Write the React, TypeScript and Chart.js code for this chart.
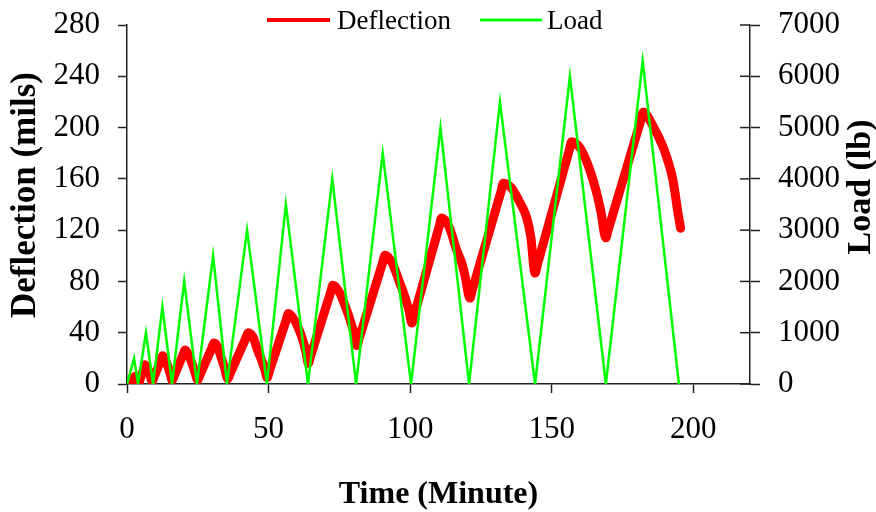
import React, { useEffect, useRef } from "react";
import { Chart, registerables } from "chart.js";

Chart.register(...registerables);

// ---- data ----
const loadTime = [0, 2.5, 3.9, 6.7, 9.2, 12.5, 15.9, 20.2, 24.7, 30.4, 35.3, 42.4, 49.4, 56.1, 63.9, 72.5, 80.9, 90.3, 100.3, 110.7, 120.8, 131.7, 144.1, 156.4, 169.1, 182.1, 194.9];
const loadValue = [0, 500, 0, 1000, 0, 1500, 0, 2000, 0, 2500, 0, 3000, 0, 3500, 0, 4000, 0, 4500, 0, 5000, 0, 5500, 0, 6000, 0, 6300, 0];

const deflTime = [
  0, 0.5, 2.3, 2.8, 3.5, 4.2,
  4.7, 5.9, 6.4, 7.3, 8.1, 8.9,
  9.4, 12.1, 12.6, 13.5, 14.4, 15.2, 16.0,
  16.6, 19.9, 20.5, 21.7, 22.8, 23.9, 25.0,
  25.7, 30.0, 30.7, 32.0, 33.2, 34.4, 35.6,
  36.4, 42.0, 42.8, 44.5, 46.2, 47.8, 48.7, 49.5,
  50.3, 56.2, 57.0, 58.8, 61.0, 62.5, 63.3, 64.0,
  64.8, 71.9, 72.7, 74.8, 77.6, 79.2, 80.2, 81.2,
  82.0, 90.3, 91.1, 93.5, 96.4, 98.2, 99.5, 100.6,
  101.4, 110.3, 111.1, 113.6, 116.4, 118.2, 119.4, 121.1,
  121.9, 132.1, 132.9, 135.7, 138.5, 141.1, 142.6, 144.1,
  144.9, 156.2, 157.0, 160.0, 163.1, 165.5, 167.3, 169.1,
  169.9, 181.5, 182.3, 186.0, 189.3, 191.0, 192.8, 194.6, 195.5,
];
const deflValue = [
  0, 1.1, 4.9, 6, 4, 1,
  4.2, 11.8, 15, 12, 7, 2,
  4.7, 19.3, 22, 19, 14, 8, 3,
  6.1, 23.4, 26.5, 23, 17, 10, 3,
  6.6, 28.4, 32, 29, 21, 13, 4,
  8, 36, 40, 36.5, 26, 17, 11, 5,
  10.3, 49.7, 55, 51, 41, 31, 24, 16,
  21.6, 71.4, 77, 72.3, 57.5, 47, 39.4, 30,
  35.7, 94.8, 100.5, 95, 78.5, 67.6, 58, 47.5,
  53.7, 123.3, 129.5, 123.3, 104.5, 94.5, 84, 67,
  73.1, 150.4, 156.5, 153, 142.5, 130, 114.5, 86.5,
  92.9, 182.6, 189, 184, 169, 152, 135, 114,
  119.9, 206.1, 212, 200, 185, 174, 159, 133, 121.5,
];

const xTicks = [0, 50, 100, 150, 200];
const yLeftTicks = [0, 40, 80, 120, 160, 200, 240, 280];
const yRightTicks = [0, 1000, 2000, 3000, 4000, 5000, 6000, 7000];

const seriesNames = ["Deflection", "Load"];
const xTitle = "Time (Minute)";
const yLeftTitle = "Deflection (mils)";
const yRightTitle = "Load (lb)";

const SERIF = "'Liberation Serif', 'Times New Roman', serif";
const AXIS = "#222";

const decorPlugin = {
  id: "decor",
  afterDraw(chart: any) {
    const ctx = chart.ctx;
    ctx.save();
    // inner tick marks on the right axis
    const y1 = chart.scales.y1;
    ctx.strokeStyle = AXIS;
    ctx.lineWidth = 1.5;
    for (const v of yRightTicks) {
      const py = y1.getPixelForValue(v);
      ctx.beginPath();
      ctx.moveTo(y1.left - 10, py);
      ctx.lineTo(y1.left, py);
      ctx.stroke();
    }
    // vertical axis titles
    ctx.fillStyle = "#000";
    ctx.textAlign = "center";
    ctx.textBaseline = "middle";
    ctx.save();
    ctx.font = `bold 35px ${SERIF}`;
    ctx.translate(26, 195);
    ctx.rotate(-Math.PI / 2);
    ctx.fillText(yLeftTitle, 0, 0);
    ctx.restore();
    ctx.save();
    ctx.font = `bold 34px ${SERIF}`;
    ctx.translate(861, 187);
    ctx.rotate(-Math.PI / 2);
    ctx.fillText(yRightTitle, 0, 0);
    ctx.restore();
    // legend
    const items = [
      { name: seriesNames[0], color: "#FF0000", w: 4, x0: 267, x1: 330, tx: 337 },
      { name: seriesNames[1], color: "#00FF00", w: 3, x0: 480, x1: 542, tx: 547 },
    ];
    ctx.font = `27px ${SERIF}`;
    ctx.textAlign = "left";
    for (const it of items) {
      ctx.strokeStyle = it.color;
      ctx.lineWidth = it.w;
      ctx.beginPath();
      ctx.moveTo(it.x0, 20);
      ctx.lineTo(it.x1, 20);
      ctx.stroke();
      ctx.fillStyle = "#000";
      ctx.fillText(it.name, it.tx, 22);
    }
    ctx.restore();
  },
};

export default function App() {
  const ref = useRef<HTMLCanvasElement | null>(null);

  useEffect(() => {
    document.body.style.margin = "0";
    const canvas = ref.current;
    if (!canvas) return;

    const deflData = deflTime.map((t, i) => ({ x: t, y: deflValue[i] }));
    const loadData = loadTime.map((t, i) => ({ x: t, y: loadValue[i] }));

    const tickFont = { family: SERIF, size: 31 };
    const plain = (v: any) => String(v);
    const fitVertical = (w: number) => (s: any) => {
      s.width = w;
      s.paddingTop = 10;
      s.paddingBottom = 10;
    };

    const chart = new Chart(canvas, {
      type: "line",
      data: {
        datasets: [
          {
            label: seriesNames[0],
            data: deflData,
            yAxisID: "y",
            borderColor: "#FF0000",
            backgroundColor: "#FF0000",
            borderWidth: 9,
            pointRadius: 0,
            cubicInterpolationMode: "monotone",
            borderCapStyle: "round",
            borderJoinStyle: "round",
            order: 2,
          },
          {
            label: seriesNames[1],
            data: loadData,
            yAxisID: "y1",
            borderColor: "#00FF00",
            backgroundColor: "#00FF00",
            borderWidth: 2.5,
            pointRadius: 0,
            tension: 0,
            order: 1,
          },
        ],
      },
      options: {
        responsive: false,
        animation: false,
        devicePixelRatio: 1,
        layout: { padding: { top: 25, left: 0, right: 0, bottom: 0 } },
        plugins: {
          legend: { display: false },
          tooltip: { enabled: false },
        },
        scales: {
          x: {
            type: "linear",
            min: 0,
            max: 220,
            afterBuildTicks: (s: any) => {
              s.ticks = xTicks.map((v) => ({ value: v }));
            },
            afterFit: (s: any) => {
              s.height = 128;
            },
            ticks: { font: tickFont, color: "#000", padding: 18, maxRotation: 0, callback: plain },
            grid: {
              display: true,
              drawOnChartArea: false,
              drawTicks: true,
              tickLength: 9,
              tickColor: AXIS,
              tickWidth: 1.5,
            },
            border: { display: true, color: AXIS, width: 1.5 },
            title: {
              display: true,
              text: xTitle,
              font: { family: SERIF, size: 32, weight: "bold", lineHeight: 1.1 },
              color: "#000",
              padding: { top: 0, bottom: 0 },
            },
          },
          y: {
            type: "linear",
            position: "left",
            min: 0,
            max: 280,
            afterBuildTicks: (s: any) => {
              s.ticks = yLeftTicks.map((v) => ({ value: v }));
            },
            afterFit: fitVertical(127),
            ticks: { font: tickFont, color: "#000", padding: 18, callback: plain },
            grid: {
              display: true,
              drawOnChartArea: false,
              drawTicks: true,
              tickLength: 9,
              tickColor: AXIS,
              tickWidth: 1.5,
            },
            border: { display: true, color: AXIS, width: 1.5 },
          },
          y1: {
            type: "linear",
            position: "right",
            min: 0,
            max: 7000,
            afterBuildTicks: (s: any) => {
              s.ticks = yRightTicks.map((v) => ({ value: v }));
            },
            afterFit: fitVertical(126),
            ticks: { font: tickFont, color: "#000", padding: 18, callback: plain },
            grid: {
              display: true,
              drawOnChartArea: false,
              drawTicks: true,
              tickLength: 10,
              tickColor: AXIS,
              tickWidth: 1.5,
            },
            border: { display: true, color: AXIS, width: 1.5 },
          },
        },
      },
      plugins: [decorPlugin],
    } as any);

    return () => chart.destroy();
  }, []);

  return (
    <div style={{ width: 876, height: 512, background: "#fff" }}>
      <canvas ref={ref} width={876} height={512} style={{ display: "block", width: 876, height: 512 }} />
    </div>
  );
}
